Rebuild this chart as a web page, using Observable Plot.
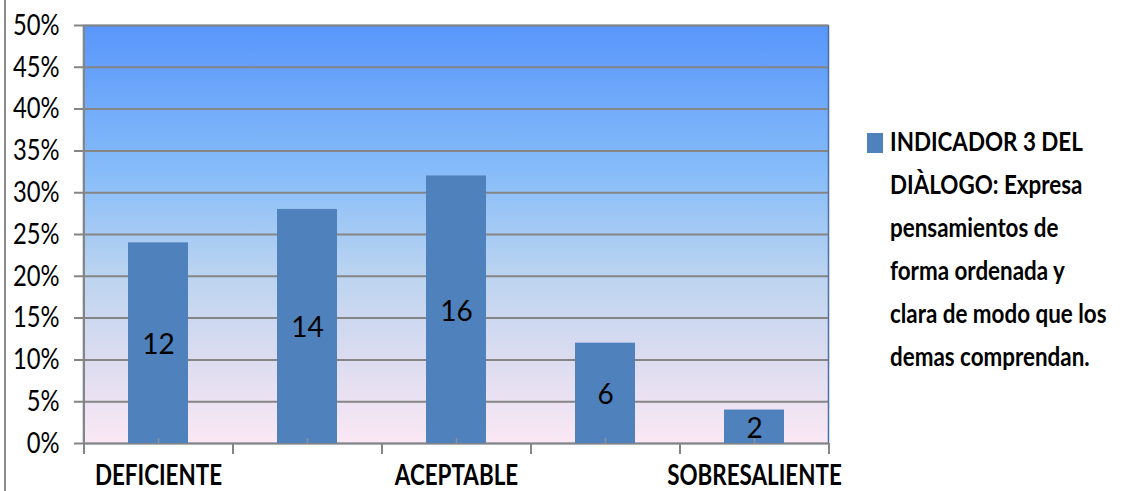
<!DOCTYPE html>
<html>
<head>
<meta charset="utf-8">
<script src="https://cdn.jsdelivr.net/npm/d3@7"></script>
<script src="https://cdn.jsdelivr.net/npm/@observablehq/plot@0.6"></script>
<style>
  html, body { margin: 0; padding: 0; background: #fff; overflow: hidden; }
  #wrap { position: relative; width: 1136px; height: 491px; }
  #border { position: absolute; left: 4px; top: 0; width: 2px; height: 491px; background: #8c8c8c; }
  #chart { position: absolute; left: 0; top: 0; }
  #legend { position: absolute; left: 866px; top: 120px; font-family: Lato, 'DejaVu Sans Condensed', sans-serif; font-weight: bold; font-size: 26.5px; line-height: 43px; color: #000; }
  #legend .sw { position: absolute; left: 1px; top: 13px; width: 16px; height: 20px; background: #4f81bd; }
  #legend .tx { position: absolute; left: 24px; top: 0; white-space: nowrap; transform: scaleX(0.845); transform-origin: 0 0; }
</style>
</head>
<body>
<div id="wrap">
  <div id="border"></div>
  <div id="chart"></div>
  <div id="legend"><div class="sw"></div><div class="tx" id="legendText"></div></div>
</div>
<script>
const categories = ["DEFICIENTE", "INSUFICIENTE", "ACEPTABLE", "SATISFACTORIO", "SOBRESALIENTE"];
const tickLabels = ["DEFICIENTE", "", "ACEPTABLE", "", "SOBRESALIENTE"];
const percents = [24, 28, 32, 12, 4];
const counts = [12, 14, 16, 6, 2];
const yTicks = [0, 5, 10, 15, 20, 25, 30, 35, 40, 45, 50];
const legendLines = ["INDICADOR 3 DEL", "DIÀLOGO: Expresa", "pensamientos de", "forma ordenada y", "clara de modo que los", "demas comprendan."];

const data = categories.map((c, i) => ({cat: c, pct: percents[i], n: counts[i]}));

const W = 850, ML = 83, MR = 22;
const step = (W - ML - MR) / categories.length;

const svg = Plot.plot({
  width: W,
  height: 491,
  marginLeft: ML,
  marginRight: MR,
  marginTop: 25,
  marginBottom: 48,
  style: {
    fontFamily: "Lato, 'DejaVu Sans Condensed', sans-serif",
    fontSize: "28px",
    color: "#000",
    background: "transparent",
    overflow: "visible"
  },
  x: {domain: categories, paddingInner: 0.6, paddingOuter: 0.3, label: null},
  y: {domain: [0, 50], label: null},
  marks: [
    Plot.frame({fill: "url(#bg)", stroke: "#4a6fa5", strokeWidth: 1.5}),
    Plot.ruleY(yTicks, {stroke: "#858585", strokeWidth: 2, insetLeft: -9}),
    Plot.ruleX([categories[0]], {dx: -step / 2, stroke: "#858585", strokeWidth: 2}),
    Plot.barY(data, {x: "cat", y: "pct", fill: "#4f81bd"}),
    Plot.ruleX(categories, {y1: 0, y2: 0, insetTop: -5, stroke: "#8592a3", strokeWidth: 1.5}),
    Plot.ruleX(categories, {y1: 0, y2: 0, insetBottom: -11, dx: -step / 2, stroke: "#858585", strokeWidth: 2}),
    Plot.ruleX([categories[categories.length - 1]], {y1: 0, y2: 0, insetBottom: -11, dx: step / 2, stroke: "#858585", strokeWidth: 2}),
    Plot.text(data, {x: "cat", y: d => d.pct / 2, text: d => String(d.n), fill: "#000", fontSize: 28, dy: 2, ariaLabel: "bar-label"}),
    Plot.axisY({ticks: yTicks, tickSize: 0, tickPadding: 24, fontSize: 29, tickFormat: d => d + "%"}),
    Plot.axisX({tickSize: 0, tickPadding: 22, fontSize: 28, tickFormat: d => tickLabels[categories.indexOf(d)]})
  ]
});

const defs = d3.select(svg).insert("defs", ":first-child");
const g = defs.append("linearGradient").attr("id", "bg").attr("x1", 0).attr("y1", 0).attr("x2", 0).attr("y2", 1);
[["0%", "#5896fb"], ["35%", "#86bcf9"], ["60%", "#bcd4f0"], ["80%", "#dcdcf0"], ["100%", "#fbe8f4"]].forEach(([o, c]) => {
  g.append("stop").attr("offset", o).attr("stop-color", c);
});
d3.select(svg).select('g[aria-label="x-axis tick label"]').attr("font-weight", "bold");

// horizontally condense glyphs around each text's anchor (narrow face look)
const squeeze = {"y-axis tick label": 0.82, "x-axis tick label": 0.80, "bar-label": 0.82};
Object.entries(squeeze).forEach(([label, s]) => {
  d3.select(svg).selectAll(`g[aria-label="${label}"] text`).each(function() {
    const t = this.getAttribute("transform");
    if (t) this.setAttribute("transform", t + ` scale(${s},1)`);
  });
});

document.getElementById("chart").appendChild(svg);
document.getElementById("legendText").innerHTML = legendLines.join("<br>");
</script>
</body>
</html>
